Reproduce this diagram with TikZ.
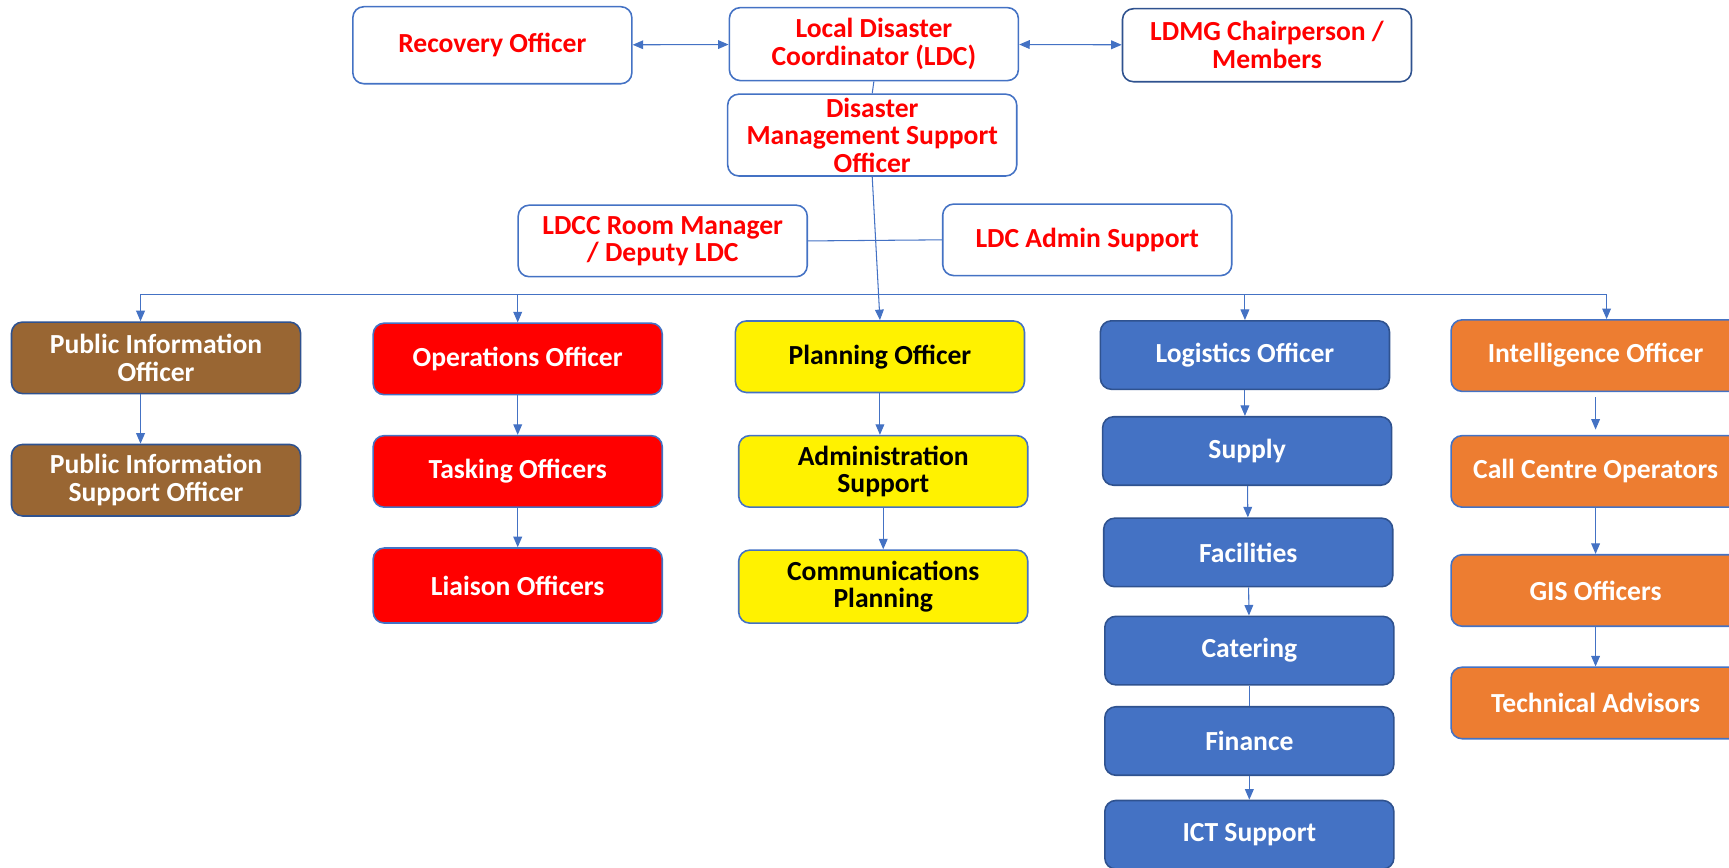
\documentclass[tikz,border=0pt]{standalone}
\usepackage{fontspec}
\setmainfont{Carlito}
\usetikzlibrary{arrows.meta}
\definecolor{linkblue}{HTML}{4472C4}
\definecolor{darkline}{HTML}{2F528F}
\definecolor{brownfill}{HTML}{996633}
\definecolor{orangefill}{HTML}{ED7D31}
\begin{document}
\begin{tikzpicture}[x=0.022054cm, y=-0.022054cm,
  box/.style={draw=linkblue, line width=0.9pt, rounded corners=0.22cm,
    minimum width=5.78cm, minimum height=1.43cm, align=center, inner sep=2pt,
    font=\fontsize{15.7}{15.7}\selectfont\bfseries},
  wbox/.style={box, fill=white, text=red},
  brownbox/.style={box, draw=darkline, fill=brownfill, text=white},
  redbox/.style={box, fill=red, text=white},
  yellowbox/.style={box, fill=yellow, text=black},
  bluebox/.style={box, draw=darkline, fill=linkblue, text=white, minimum height=1.37cm},
  orangebox/.style={box, fill=orangefill, text=white},
  link/.style={draw=linkblue, line width=0.6pt},
  arr/.style={link, -{Triangle[length=6pt,width=5pt]}},
  twoway/.style={link, {Triangle[length=6pt,width=5pt]}-{Triangle[length=6pt,width=5pt]}}]
  \useasboundingbox (0,0) rectangle (1568,787);
  \clip (0,0) rectangle (1568,787);
  % top level
  \node[wbox, minimum width=5.58cm, minimum height=1.54cm] (rec) at (446.5,41) {Recovery Officer};
  \node[wbox, minimum height=1.46cm] (ldc) at (792.5,40) {Local Disaster\\Coordinator (LDC)};
  \node[wbox, draw=darkline, minimum height=1.46cm] (ldmg) at (1149,41) {LDMG Chairperson /\\Members};
  \node[wbox, minimum height=1.52cm] (dmso) at (791,122.5) {Disaster\\Management Support\\Officer};
  \node[wbox] (ldcc) at (601,218.5) {LDCC Room Manager\\/ Deputy LDC};
  \node[wbox] (adm) at (986,217.5) {LDC Admin Support};
  \draw[twoway] (rec) -- (ldc);
  \draw[twoway] (ldc) -- (ldmg);
  \draw[link] (ldc.south) -- (dmso.north);
  \draw[link] (ldcc.east) -- (adm.west);
  % public information
  \node[brownbox] (pio) at (141.5,324.5) {Public Information\\Officer};
  \node[brownbox] (piso) at (141.5,435.5) {Public Information\\Support Officer};
  % operations
  \node[redbox] (ops) at (469.5,325.5) {Operations Officer};
  \node[redbox] (task) at (469.5,427.5) {Tasking Officers};
  \node[redbox, minimum height=1.5cm] (liai) at (469.5,531) {Liaison Officers};
  % planning
  \node[yellowbox] (plan) at (798,323.5) {Planning Officer};
  \node[yellowbox] (admin) at (801,427.5) {Administration\\Support};
  \node[yellowbox, minimum height=1.46cm] (comm) at (801,532) {Communications\\Planning};
  % logistics
  \node[bluebox] (log) at (1129,322) {Logistics Officer};
  \node[bluebox] (sup) at (1131,409) {Supply};
  \node[bluebox] (fac) at (1132,501) {Facilities};
  \node[bluebox] (cat) at (1133,590) {Catering};
  \node[bluebox] (fin) at (1133,672) {Finance};
  \node[bluebox] (ict) at (1133,757) {ICT Support};
  % intelligence
  \node[orangebox] (int) at (1447,322.5) {Intelligence Officer};
  \node[orangebox] (call) at (1447,427.5) {Call Centre Operators};
  \node[orangebox] (gis) at (1447,535.5) {GIS Officers};
  \node[orangebox] (tech) at (1447,637.5) {Technical Advisors};
  % bus to the sections
  \coordinate (bus) at (0,267);
  \draw[link] ([xshift=-0.31cm]pio.north |- bus) -- ([xshift=0.22cm]int.north |- bus);
  \draw[arr] (dmso.south) -- (plan.north);
  \draw[arr] ([xshift=-0.31cm]pio.north |- bus) -- ([xshift=-0.31cm]pio.north);
  \draw[arr] (ops.north |- bus) -- (ops.north);
  \draw[arr] (log.north |- bus) -- (log.north);
  \draw[arr] ([xshift=0.22cm]int.north |- bus) -- ([xshift=0.22cm]int.north);
  % within the sections
  \draw[arr] ([xshift=-0.31cm]pio.south) -- ([xshift=-0.31cm]piso.north);
  \draw[arr] (ops) -- (task);
  \draw[arr] (task) -- (liai);
  \draw[arr] (plan) -- (plan |- admin.north);
  \draw[arr] (admin) -- (comm);
  \draw[arr] (log.south) -- (log.south |- sup.north);
  \draw[arr] (sup) -- (fac);
  \draw[arr] (fac) -- (cat);
  \draw[link] (cat) -- (fin);
  \draw[arr] (fin) -- (ict);
  \draw[arr, shorten <=3pt, shorten >=3pt] (int) -- (call);
  \draw[arr] (call) -- (gis);
  \draw[arr] (gis) -- (tech);
\end{tikzpicture}
\end{document}
